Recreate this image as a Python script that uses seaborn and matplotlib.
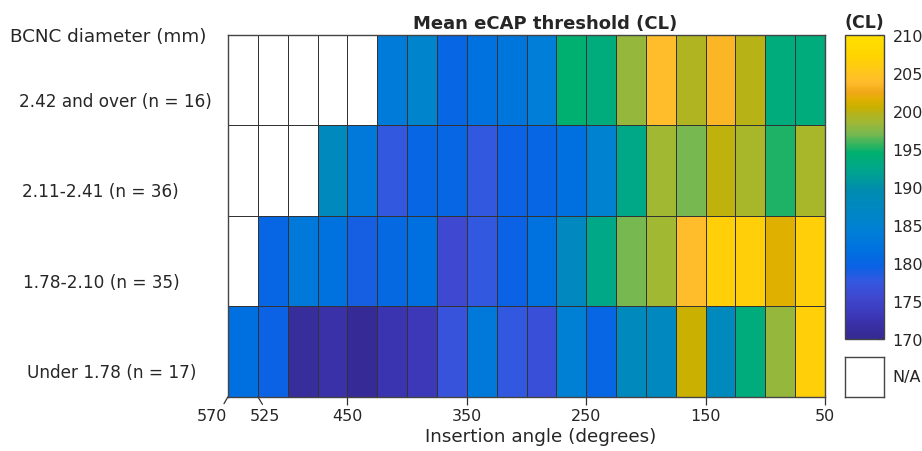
import numpy as np
import pandas as pd
import seaborn as sns
import matplotlib
matplotlib.use("Agg")
import matplotlib.pyplot as plt
from matplotlib.colors import LinearSegmentedColormap
from matplotlib.transforms import ScaledTranslation

nan = np.nan

# ---------------- data ----------------
row_labels = ["2.42 and over (n = 16)", "2.11-2.41 (n = 36)",
              "1.78-2.10 (n = 35)", "Under 1.78 (n = 17)"]

row_242_over = [nan, nan, nan, nan, nan, 183.5, 185.5, 180.0, 182.0, 182.5,
                184.0, 194.5, 193.5, 198.0, 203.8, 199.5, 203.3, 199.8, 193.5, 193.5]
row_211_241 = [nan, nan, nan, 188.0, 183.0, 177.5, 180.0, 180.0, 177.5, 179.5,
               180.0, 181.5, 185.0, 192.5, 198.5, 197.0, 200.0, 199.0, 195.0, 199.0]
row_178_210 = [nan, 180.0, 183.0, 182.0, 179.0, 180.5, 181.5, 175.5, 177.5, 179.5,
               182.0, 187.5, 192.5, 197.0, 198.5, 203.8, 206.5, 206.5, 201.5, 206.5]
row_under_178 = [181.5, 179.5, 171.0, 172.0, 170.5, 172.5, 173.0, 177.0, 183.0, 177.5,
                 176.5, 184.5, 180.0, 188.0, 187.5, 200.5, 188.0, 193.5, 198.0, 206.5]

x_tick_edges = [0, 1, 4, 8, 12, 16, 20]
x_tick_labels = ["570", "525", "450", "350", "250", "150", "50"]
cbar_ticks = [170, 175, 180, 185, 190, 195, 200, 205, 210]

# parula-like colormap sampled from the reference colour bar
cmap_vals = [170, 172, 173, 175.5, 177.5, 179.5, 181.5, 184, 185.5, 187.5, 189.5,
             191, 192.5, 194.5, 195.5, 197, 198.5, 199.5, 200.5, 201.5, 202.5,
             203.8, 205.5, 207.2, 210]
cmap_cols = ["#352a90", "#3a30a8", "#3c38b8", "#3e48d0", "#3458e0", "#0a62e4",
             "#0070e0", "#007ed8", "#0084cc", "#0088c0", "#008cb0", "#009a9c",
             "#00a888", "#00b070", "#30b460", "#78b850", "#a0b834", "#b0b420",
             "#c8b000", "#e0b000", "#f0a818", "#ffbc2c", "#ffc818", "#ffd400",
             "#ffe000"]
vmin, vmax = 170, 210
cmap = LinearSegmentedColormap.from_list(
    "parula_like",
    [((v - vmin) / (vmax - vmin), c) for v, c in zip(cmap_vals, cmap_cols)])
cmap.set_bad("white")

df = pd.DataFrame([row_242_over, row_211_241, row_178_210, row_under_178],
                  index=row_labels)

# ---------------- figure ----------------
sns.set_style("white")
plt.rcParams["font.family"] = ["DejaVu Sans"]
txt = "#262626"

W, H = 922, 452
fig = plt.figure(figsize=(W / 100, H / 100), dpi=100)
ax = fig.add_axes([228 / W, 1 - 397.7 / H, 597 / W, 362 / H])
cax = fig.add_axes([845.3 / W, 1 - 340 / H, 39 / W, 304.3 / H])
nax = fig.add_axes([845.3 / W, 1 - 397.7 / H, 39 / W, 39.7 / H])

sns.heatmap(df, ax=ax, cmap=cmap, vmin=vmin, vmax=vmax, linewidths=0.6,
            linecolor="#333333", cbar_ax=cax, cbar_kws={"ticks": cbar_ticks})

for s in ax.spines.values():
    s.set_visible(True)
    s.set_color("#444444")
    s.set_linewidth(1.0)

# x axis
ax.set_xticks(x_tick_edges, x_tick_labels)
ax.tick_params(axis="x", bottom=True, length=5.8, width=0.9, color="#333333",
               direction="out", pad=2, labelsize=11.5, labelcolor=txt, rotation=0)
ticks = ax.xaxis.get_major_ticks()
ticks[0].tick1line.set_visible(False)
ticks[1].tick1line.set_visible(False)
ax.plot([0, -0.134], [4, 4.077], color="#333333", lw=0.9, clip_on=False)
ax.plot([1, 1.154], [4, 4.085], color="#333333", lw=0.9, clip_on=False)
ticks[0].label1.set_transform(ticks[0].label1.get_transform()
                              + ScaledTranslation(-16.3 / 100, 0, fig.dpi_scale_trans))
ticks[1].label1.set_transform(ticks[1].label1.get_transform()
                              + ScaledTranslation(7.3 / 100, 0, fig.dpi_scale_trans))
ax.set_xlabel("Insertion angle (degrees)", fontsize=13.2, color=txt)
ax.xaxis.set_label_coords(0.524, -0.085)

# y axis (row labels sit below each row centre, left aligned)
ax.set_yticks([i + 0.73 for i in range(len(row_labels))], row_labels)
ax.tick_params(axis="y", left=False, length=0, pad=148.3, labelsize=12.2,
               labelcolor=txt, rotation=0)
label_shift_px = [-3, 0, 1, 5]
for lbl, dx in zip(ax.get_yticklabels(), label_shift_px):
    lbl.set_ha("left")
    lbl.set_transform(lbl.get_transform()
                      + ScaledTranslation(dx / 100, 0, fig.dpi_scale_trans))
ax.set_ylabel("")

ax.set_title("Mean eCAP threshold (CL)", fontsize=13, fontweight="bold",
             color=txt, pad=5, x=0.531)
fig.text(10 / W, 1 - 37 / H, "BCNC diameter (mm)", fontsize=13.2, color=txt,
         va="center", ha="left")

# colour bar
cbar = ax.collections[0].colorbar
cbar.outline.set_edgecolor("#444444")
cbar.outline.set_linewidth(1.0)
cax.tick_params(direction="in", length=4, width=0.8, color="#333333",
                labelsize=11.5, labelcolor=txt, pad=6)
fig.text(864 / W, 1 - 23 / H, "(CL)", fontsize=12.5, fontweight="bold",
         color=txt, ha="center", va="center")

# N/A box
nax.set_facecolor("white")
nax.set_xticks([])
nax.set_yticks([])
for s in nax.spines.values():
    s.set_visible(True)
    s.set_color("#444444")
    s.set_linewidth(1.0)
fig.text(892.7 / W, 1 - 378 / H, "N/A", fontsize=11.5, color=txt,
         ha="left", va="center")

fig.savefig("out.png", dpi=100)
